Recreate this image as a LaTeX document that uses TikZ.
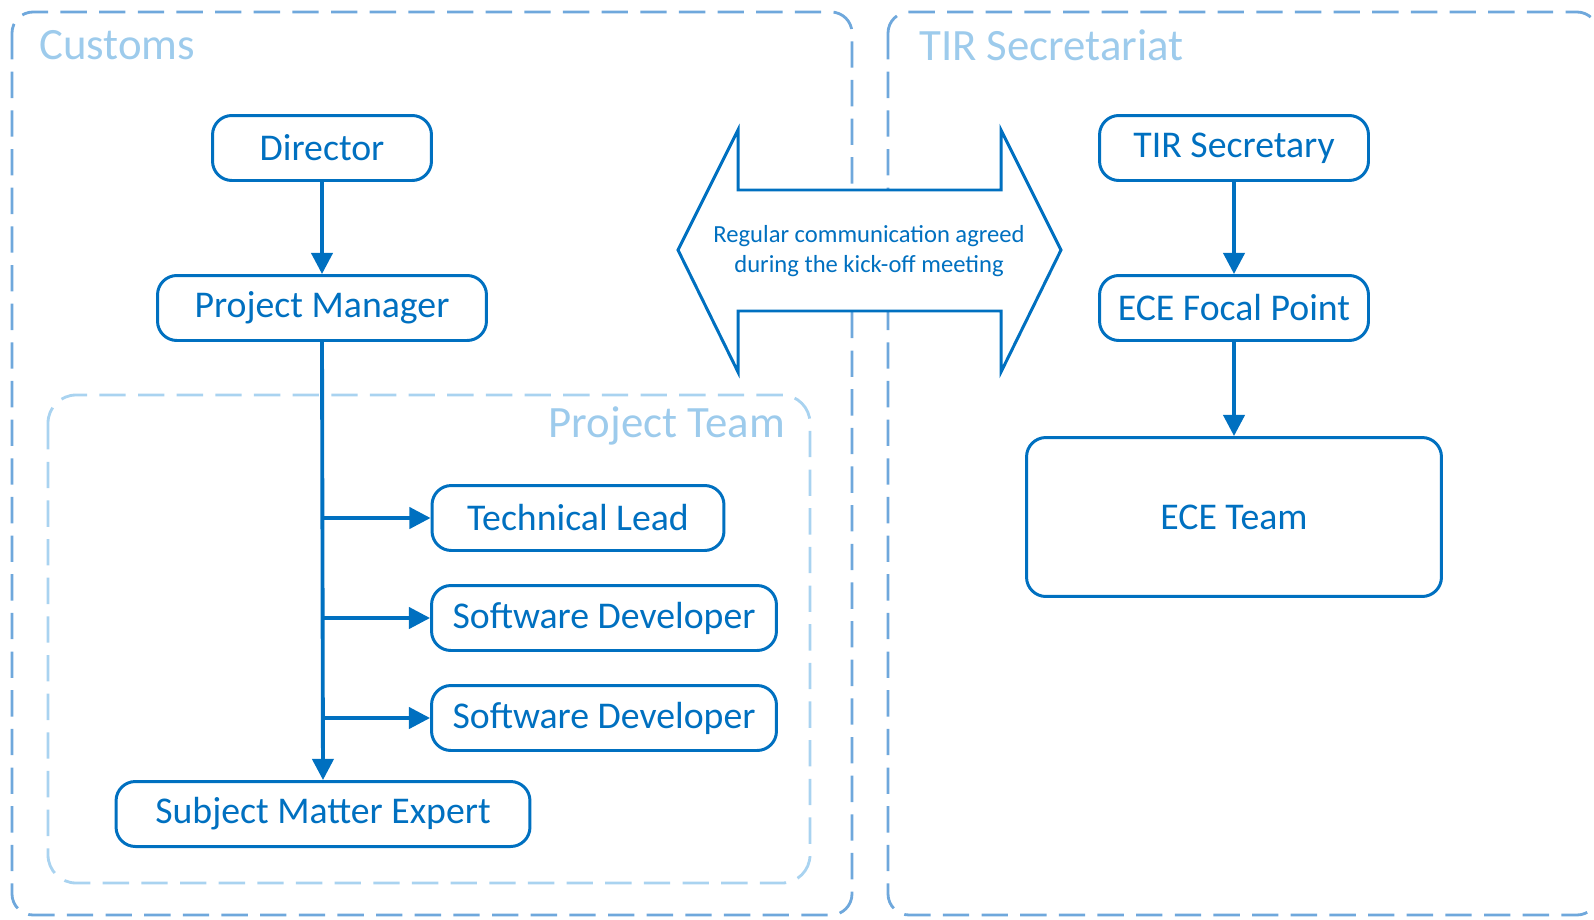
\documentclass[tikz,border=0pt]{standalone}
\usepackage{fontspec}
\setmainfont{Carlito}
\usepackage{tikz}
\usetikzlibrary{arrows.meta}
\definecolor{boxblue}{HTML}{0070C0}
\definecolor{groupblue}{HTML}{6FA8DC}
\definecolor{teamblue}{HTML}{A9D3F0}
\definecolor{labelblue}{HTML}{9DCBEC}

\begin{document}
\begin{tikzpicture}[x=0.02cm,y=-0.02cm,
		every node/.style={font=\fontsize{21.5}{25}\selectfont,text=boxblue},
		role/.style={draw=boxblue,line width=1.7pt,rounded corners=11pt,inner sep=0pt,minimum height=1.3cm},
		group/.style={draw=groupblue,line width=1.6pt,rounded corners=12pt,dash pattern=on 15pt off 7pt},
		team/.style={draw=teamblue,line width=1.6pt,rounded corners=16pt,dash pattern=on 15pt off 7pt},
		grouplabel/.style={font=\fontsize{25.5}{30}\selectfont,text=labelblue},
		link/.style={draw=boxblue,line width=2.2pt,-{Triangle[length=12pt,width=12pt]}}]
		\useasboundingbox (0,0) rectangle (1594,919);
		% groups
		\draw[group] (12,12) rectangle (852,915);
		\draw[group] (888,12) rectangle (1598,915);
		\draw[team] (48,395) rectangle (810,883);
		\node[grouplabel,anchor=west] (customs) at (33,45) {Customs};
		\node[grouplabel,anchor=west] (tir) at (913,45) {TIR Secretariat};
		\node[grouplabel,anchor=east] (teamlbl) at (791,426) {Project Team};
		% customs side
		\node[role,minimum width=4.38cm] (dir) at (322,148) {Director};
		\node[role,minimum width=6.58cm] (pm) at (322,308) {Project Manager};
		\node[role,minimum width=5.84cm] (tl) at (578,518) {Technical Lead};
		\node[role,minimum width=6.9cm] (sd1) at (604,618) {Software Developer};
		\node[role,minimum width=6.9cm] (sd2) at (604,718) {Software Developer};
		\node[role,minimum width=8.28cm] (sme) at (323,814) {Subject Matter Expert};
		\draw[link] (dir) -- (pm);
		\draw[link] (pm.south) -- (sme.north);
		\draw[link] (pm.south |- tl.west) -- (tl.west);
		\draw[link] (pm.south |- sd1.west) -- (sd1.west);
		\draw[link] (pm.south |- sd2.west) -- (sd2.west);
		% TIR side
		\node[role,minimum width=5.38cm] (sec) at (1234,148) {TIR Secretary};
		\node[role,minimum width=5.38cm] (ecefp) at (1234,308) {ECE Focal Point};
		\node[role,minimum width=8.3cm,minimum height=3.18cm] (eceteam) at (1234,517) {ECE Team};
		\draw[link] (sec) -- (ecefp);
		\draw[link] (ecefp) -- (eceteam);
		% communication arrow
		\draw[boxblue,line width=1.7pt,fill=white,line join=miter]
			(678,250) -- (738,130) -- (738,190) -- (1001,190) -- (1001,130) -- (1061,250)
			-- (1001,372) -- (1001,311) -- (738,311) -- (738,372) -- cycle;
		\node[font=\fontsize{14}{17}\selectfont,align=center] (comm) at (869,251)
			{Regular communication agreed\\during the kick-off meeting};
	\end{tikzpicture}
\end{document}
